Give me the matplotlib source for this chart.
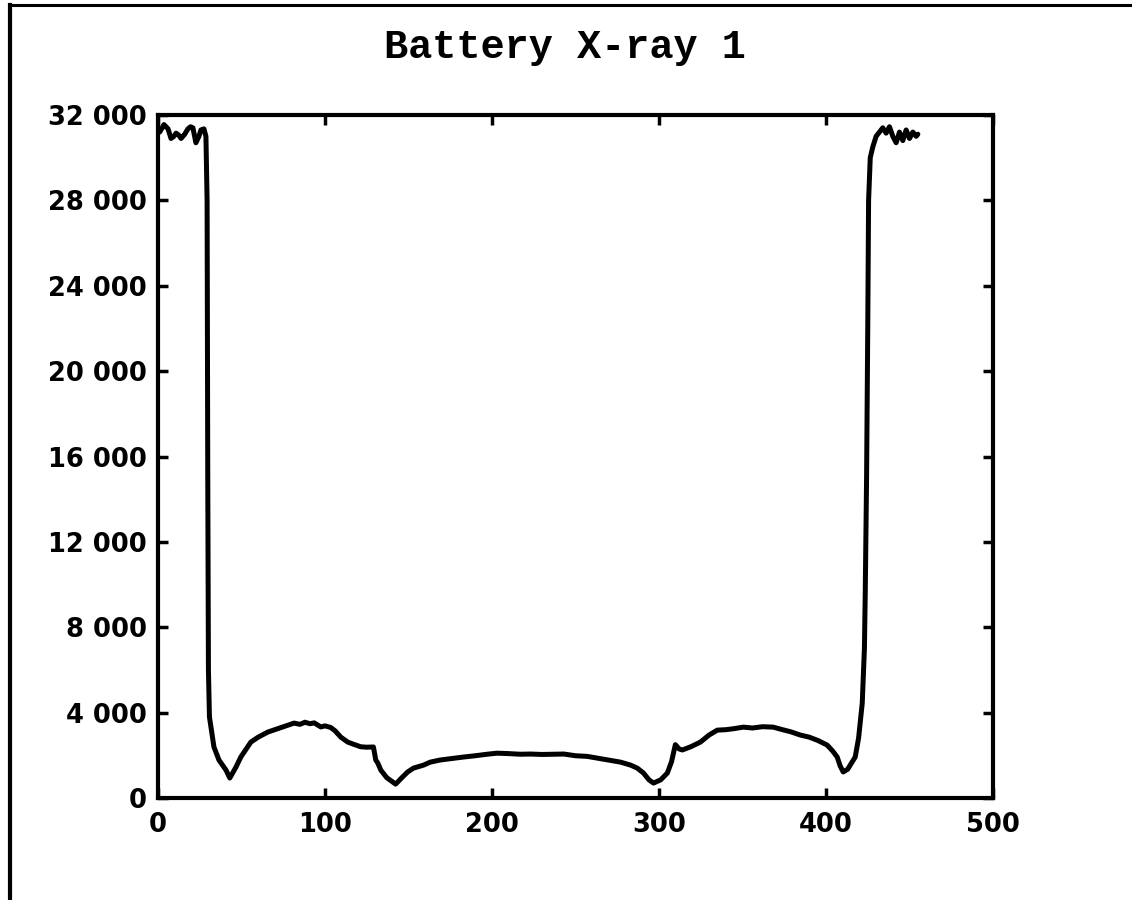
import matplotlib
matplotlib.use("Agg")
import matplotlib.pyplot as plt
from matplotlib.lines import Line2D

# ---- data ----
pixel_x = [1, 3.6, 6, 7.8, 9.5, 10.8, 12.5, 13.8, 16, 17.9, 19.5, 20.9, 22.7, 24.5, 25.7, 27.5, 28.7,
           29.4, 29.8, 30.2, 30.8, 33.5, 36.5, 40.7, 43, 46.7, 49.6, 55.6, 60, 65.8, 73.6, 78, 81.5,
           85, 88, 91, 93.5, 97.5, 100, 103.5, 106, 109.5, 113.6, 117, 121.4, 125, 129, 130.4, 131.6,
           133.4, 137, 142.3, 146, 149.5, 153, 159, 163, 169, 176, 183, 190, 197, 203, 210, 217, 223,
           230, 237, 243, 250, 257, 263, 270, 277, 283, 287, 290.7, 294, 296.7, 301, 305, 307.5, 309.8,
           312, 314, 319, 324.8, 330, 334.9, 340, 345, 350.5, 356, 362, 368.4, 374, 379, 384.6, 390,
           395, 400.7, 404, 406.7, 408.5, 410.3, 413, 417.5, 419.5, 421.7, 423, 423.5, 424.3, 425,
           425.5, 426.5, 428, 430, 432, 434, 436, 438, 440, 442, 444, 446, 448, 450, 452, 454, 455]
intensity = [31200, 31550, 31350, 30900, 31000, 31150, 31050, 30900, 31100, 31350, 31450, 31400, 30700,
             31000, 31300, 31350, 31000,
             28000, 15000, 6000, 3800, 2390, 1780, 1310, 935, 1450, 1920, 2620, 2850, 3090, 3300, 3420,
             3510, 3450, 3550, 3480, 3520, 3330, 3380, 3300, 3150, 2850, 2620, 2520, 2400, 2380, 2390,
             1780, 1640, 1310, 950, 650, 950, 1220, 1400, 1540, 1680, 1780, 1850, 1920, 1980, 2050,
             2100, 2080, 2050, 2060, 2040, 2050, 2060, 1980, 1950, 1870, 1780, 1680, 1540, 1400, 1170,
             850, 700, 850, 1170, 1700, 2500, 2300, 2250, 2400, 2620, 2950, 3180, 3200, 3250, 3320,
             3280, 3340, 3320, 3200, 3100, 2950, 2850, 2700, 2480, 2200, 1920, 1500, 1220, 1350, 1920,
             2800, 4440, 7000, 9600, 15000, 22000, 28000, 30000, 30500, 31000, 31200, 31400, 31150,
             31450, 31000, 30700, 31200, 30800, 31300, 30900, 31200, 31000, 31100]

x_ticks = [0, 100, 200, 300, 400, 500]
x_tick_labels = ["0", "100", "200", "300", "400", "500"]
y_ticks = [0, 4000, 8000, 12000, 16000, 20000, 24000, 28000, 32000]
y_tick_labels = ["0", "4 000", "8 000", "12 000", "16 000", "20 000", "24 000", "28 000", "32 000"]
title = "Battery X-ray 1"

# ---- figure ----
W, H = 1132, 900
fig = plt.figure(figsize=(W / 100, H / 100), dpi=100)
fig.patch.set_facecolor("white")

left, right, top, bottom = 158, 993, 115, 798
ax = fig.add_axes([left / W, 1 - bottom / H, (right - left) / W, (bottom - top) / H])

ax.plot(pixel_x, intensity, color="black", lw=3.6, solid_joinstyle="round", solid_capstyle="round")

ax.set_xlim(0, 500)
ax.set_ylim(0, 32000)
ax.set_xticks(x_ticks)
ax.set_xticklabels(x_tick_labels)
ax.set_yticks(y_ticks)
ax.set_yticklabels(y_tick_labels)

for sp in ax.spines.values():
    sp.set_linewidth(3)
    sp.set_color("black")

ax.tick_params(axis="both", which="major", direction="in", length=7, width=2.5,
               top=True, right=True, colors="black")
ax.tick_params(axis="x", pad=10)
ax.tick_params(axis="y", pad=8)
for lab in ax.get_xticklabels() + ax.get_yticklabels():
    lab.set_fontfamily("DejaVu Sans")
    lab.set_fontweight("heavy")
    lab.set_fontsize(18.5)

fig.text(565 / W, 1 - 47 / H, title, ha="center", va="center",
         fontfamily="Liberation Mono", fontweight="bold", fontsize=29, color="black")

# outer frame of the scanned page (top and left edges)
fig.add_artist(Line2D([10 / W, 1.0], [1 - 5 / H, 1 - 5 / H], transform=fig.transFigure,
                      color="black", lw=2.2))
fig.add_artist(Line2D([10 / W, 10 / W], [0.0, 1 - 5 / H], transform=fig.transFigure,
                      color="black", lw=3))

fig.savefig("out.png", dpi=100)
